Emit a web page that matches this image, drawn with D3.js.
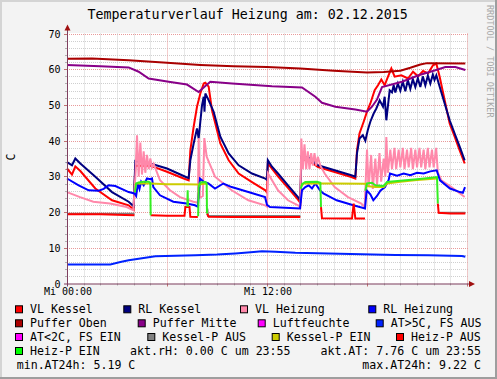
<!DOCTYPE html>
<html><head><meta charset="utf-8">
<script src="https://cdn.jsdelivr.net/npm/d3@7/dist/d3.min.js"></script>
<style>body{margin:0;background:#f3f3f3}svg{display:block}</style>
</head><body><svg id="c" width="497" height="379"></svg>
<script>
// ---------- DATA (hour of day, value in C) ----------
const title = "Temperaturverlauf Heizung am: 02.12.2015";
const yTicks = [0,10,20,30,40,50,60,70];
const xTickHours = [0,12];
const xTickLabels = ["Mi 00:00","Mi 12:00"];

const vlKessel = [[0,32.2],[0.3,30.5],[0.5,32.8],[0.8,31.5],[1.7,26.6],[2.7,23.3],[3.7,21.9],[4.0,20.7],[4.1,33.0],[5.0,33.0],[6.0,31.3],[7.0,29.4],[7.3,28.9],[7.4,37.3],[7.6,43.9],[7.8,49.5],[8.0,53.2],[8.2,56.0],[8.3,56.2],[8.5,55.1],[8.7,48.5],[9.2,39.2],[9.7,34.5],[10.3,30.8],[11.1,28.4],[11.9,26.1],[12.0,25.5],[12.05,33.6],[12.66,30.0],[13.26,26.8],[13.86,23.5],[14.0,22.6],[14.06,34.8],[14.5,34.5],[15.06,32.6],[16.06,31.2],[17.06,29.8],[17.3,29.4],[17.4,37.3],[17.55,42.0],[17.8,45.3],[18.0,48.1],[18.2,50.4],[18.46,54.1],[18.66,55.5],[18.86,57.1],[19.06,55.5],[19.26,57.9],[19.46,60.2],[19.66,57.9],[20.06,58.3],[20.46,57.4],[20.76,59.3],[21.06,58.0],[21.36,59.5],[21.66,58.8],[21.96,61.1],[22.16,61.6],[22.36,57.9],[22.66,51.3],[22.96,44.8],[23.26,41.1],[23.56,37.3],[23.86,33.6]];

const rlKessel = [[0,34.0],[0.3,33.1],[0.5,35.0],[0.8,33.6],[1.7,29.9],[2.7,25.6],[3.7,22.9],[4.0,21.6],[4.1,34.3],[5.0,33.6],[6.0,32.2],[7.1,29.9],[7.3,29.5],[7.4,34.5],[7.6,39.2],[7.8,43.4],[7.9,40.6],[8.0,45.3],[8.1,49.9],[8.2,52.3],[8.25,48.1],[8.3,53.2],[8.5,51.3],[8.8,48.1],[9.2,41.1],[9.7,36.4],[10.3,33.1],[11.1,30.8],[11.9,29.4],[12.0,29.0],[12.05,34.5],[12.3,32.7],[12.66,30.8],[13.26,27.5],[13.86,24.2],[14.0,23.3],[14.06,35.5],[14.5,35.3],[15.06,33.1],[16.06,31.7],[17.06,30.3],[17.3,29.9],[17.4,36.5],[17.55,40.6],[17.75,41.5],[17.9,40.0],[18.05,43.0],[18.2,45.3],[18.4,47.6],[18.56,49.0],[18.76,51.3],[18.96,49.5],[19.06,52.3],[19.16,45.7],[19.36,54.1],[19.5,53.5],[19.6,55.5],[19.7,53.5],[19.85,56.0],[20.0,54.0],[20.15,56.5],[20.3,53.8],[20.45,57.0],[20.6,54.5],[20.75,57.2],[20.9,55.0],[21.05,57.5],[21.2,55.0],[21.35,58.0],[21.5,55.5],[21.65,58.2],[21.8,56.0],[21.95,58.5],[22.05,57.0],[22.16,58.3],[22.36,55.1],[22.66,50.4],[22.96,45.7],[23.26,42.0],[23.56,38.3],[23.86,34.5]];

const vlHeizung = [[0,25.6],[0.78,24.2],[1.58,22.9],[2.58,22.4],[3.58,21.4],[3.98,20.5],[4.1,30],[4.2,41.5],[4.3,30],[4.4,39.5],[4.5,30.5],[4.6,37],[4.7,31],[4.8,36],[4.9,32],[5.0,35],[5.1,32.5],[5.2,33.5],[5.58,28.9],[6.18,26.1],[6.78,24.2],[7.58,22.9],[7.85,22.6],[7.9,40.7],[7.97,24],[8.15,24.5],[8.24,40.7],[8.38,35.5],[8.88,29.9],[9.88,26.1],[10.88,23.3],[11.88,21.9],[12.0,21.5],[12.06,30.8],[12.66,26.1],[13.26,23.3],[13.86,21.9],[14.0,21.4],[14.06,40.6],[14.15,32],[14.25,39],[14.35,32],[14.45,37],[14.55,32],[14.65,36.5],[14.75,33],[14.85,36.5],[14.95,33],[15.05,35.5],[15.2,33],[15.46,30.8],[16.06,27],[16.86,24.2],[17.66,22.4],[17.86,21.4],[18.0,37.5],[18.1,27],[18.25,36],[18.35,26.5],[18.5,35],[18.6,27.5],[18.75,36.5],[18.85,28.5],[19.0,35],[19.1,30],[19.16,41],[19.25,31],[19.4,37.5],[19.5,32],[19.65,38],[19.75,32],[19.9,37.5],[20.0,32.5],[20.15,38],[20.25,32],[20.4,37.5],[20.5,32.5],[20.65,38],[20.75,32],[20.9,37.5],[21.0,32.5],[21.15,38],[21.25,32.5],[21.4,37.5],[21.5,32],[21.65,38],[21.75,32.5],[21.9,37.5],[22.0,32.5],[22.15,38],[22.25,31],[22.46,28.9],[23.06,27.0],[23.5,25.5],[23.86,24.2]];

const rlHeizung = [[0,29.4],[0.7,27.5],[1.3,26.1],[1.9,26.0],[2.2,26.5],[2.5,27.5],[2.9,27.3],[3.7,25.6],[4.05,25.2],[4.15,24.5],[4.25,28],[4.35,26.5],[4.45,28.5],[4.6,27.5],[4.8,29.4],[5.0,29.2],[5.1,29.4],[5.18,27],[5.58,24.7],[6.38,22.9],[7.18,22.4],[7.68,21.9],[7.85,21.5],[7.98,29.4],[8.2,28.5],[8.48,28],[8.88,26.6],[9.38,28],[9.88,27],[10.88,25.6],[11.88,24.2],[12.0,22],[12.18,21.4],[13.98,21],[14.1,26.1],[14.3,27],[14.5,27.5],[14.7,26.6],[14.9,28],[15.18,26.1],[15.38,25.2],[16.18,23.3],[17.18,21.9],[17.88,21],[17.98,26.1],[18.2,25],[18.38,23.3],[18.6,24.5],[18.8,26],[19.08,27],[19.3,29],[19.38,30.8],[19.8,30.2],[20.2,30.8],[20.6,30.3],[21.0,31],[21.4,30.8],[21.8,31.4],[22.18,31.7],[22.38,28.9],[22.98,26.6],[23.58,25.6],[23.75,25.4],[23.88,27]];

const pufferOben = [[0,62.9],[1.5,63.0],[3.7,62.5],[6,61.8],[8,61.2],[10,60.8],[12,60.6],[14,60.2],[16,59.6],[18,59.1],[19,59.2],[20,59.6],[20.6,60.4],[21.2,61.3],[21.6,61.7],[23.9,61.6]];

const pufferMitte = [[0,61.2],[2,60.8],[3.7,60.5],[4.3,59.3],[4.9,57.4],[6.1,56.5],[7.2,55.7],[7.9,53.6],[8.3,55.3],[8.6,56.5],[9.9,56.0],[12.3,55.2],[14.1,54.9],[14.9,52.3],[15.3,50.6],[16.1,49.5],[17.3,48.7],[18.0,48.1],[18.3,49.5],[18.6,51.5],[18.9,55.0],[20.1,56.5],[21.1,58.3],[22.1,59.7],[22.7,60.6],[23.3,60.6],[23.9,59.8]];

const aussenTemp = [[0,5.3],[2.6,5.3],[3.2,6.0],[3.7,6.5],[4.5,7.1],[5.3,7.6],[7.7,7.9],[9,8.1],[10.1,8.4],[11.2,8.8],[11.7,9.0],[12.5,8.9],[13.7,8.6],[15.7,8.4],[17.7,8.2],[19.7,8.0],[21.7,7.9],[23.7,7.7],[23.9,7.5]];

const kesselPAus = [[0,19.5],[4.05,19.5],[4.06,null],[8.42,21.0],[8.46,18.9],[14.0,18.9],[14.02,null],[22.3,19.8],[23.9,19.8]];
const kesselPEin = [[4.07,27.5],[4.2,28],[5.0,28.0],[6,27.8],[7,27.8],[7.9,27.7],[8.38,28],[8.4,null],[14.05,27.2],[14.2,28],[16,28],[17.9,27.9],[18.0,27.3],[18.5,27],[19.0,27.0],[19.2,28.0],[20,28.5],[21,29],[22.2,29.4],[22.22,null]];
const heizPAus = [[0,19.4],[2,19.4],[3.5,19.2],[4.05,19.1],[4.07,null],[5.02,19.1],[6,19.0],[7.05,19.0],[7.1,21.4],[7.35,21.4],[7.4,18.7],[7.85,18.6],[7.87,null],[8.4,19.6],[8.5,18.7],[10,18.6],[12,18.6],[14.0,18.6],[14.03,null],[15.24,21.4],[15.3,18.3],[17.1,18.2],[17.2,22.4],[17.3,18.2],[17.88,18.2],[17.9,null],[22.25,22.4],[22.3,19.8],[23,19.6],[23.9,19.6]];
const heizPEin = [[4.07,25.5],[4.15,28],[4.3,28.3],[4.6,28.5],[4.9,28.5],[5.0,28.2],[5.02,19.1],[5.03,null],[7.22,21.5],[7.24,26.1],[7.26,21.5],[7.27,null],[7.87,18.8],[7.9,27],[8.0,28.3],[8.3,28.4],[8.38,28.0],[8.4,19.6],[8.42,null],[14.03,26.5],[14.1,27.8],[14.3,28.4],[15.0,28.5],[15.2,28.2],[15.24,21.4],[15.26,null],[17.9,26],[18.0,28],[18.3,28.2],[18.5,27.5],[19.0,27.3],[19.2,28.4],[20,28.8],[21,29.2],[22,29.7],[22.2,29.8],[22.25,22.4],[22.27,null]];

const legendNames = ["VL Kessel","RL Kessel","VL Heizung","RL Heizung","Puffer Oben","Puffer Mitte","Luftfeuchte","AT>5C, FS AUS","AT<2C, FS EIN","Kessel-P AUS","Kessel-P EIN","Heiz-P AUS","Heiz-P EIN"];
const legendColors = ["#ff0000","#000080","#ff88aa","#0000ff","#aa0000","#880088","#ff00ff","#0022ff","#ff00ff","#808080","#cccc00","#ff0000","#00ff00"];
const infoTexts = ["akt.rH: 0.00 C um 23:55","akt.AT: 7.76 C um 23:55","min.AT24h: 5.19 C","max.AT24h: 9.22 C"];

// ---------- DRAWING ----------
const W=497,H=379, X0=67, X1=467, Y0=283.5, Y1=33.5;
const FONT="DejaVu Sans Mono";
const svg=d3.select("#c");
const x=d3.scaleLinear().domain([0,24]).range([X0,X1]);
const y=d3.scaleLinear().domain([0,70]).range([Y0,Y1]);

svg.append("rect").attr("width",W).attr("height",H).attr("fill","#f3f3f3");
svg.append("rect").attr("x",0).attr("y",0).attr("width",W).attr("height",2).attr("fill","#d4d4d4");
svg.append("rect").attr("x",0).attr("y",0).attr("width",2).attr("height",H).attr("fill","#d4d4d4");
svg.append("rect").attr("x",0).attr("y",H-2).attr("width",W).attr("height",2).attr("fill","#9e9e9e");
svg.append("rect").attr("x",W-2).attr("y",0).attr("width",2).attr("height",H).attr("fill","#9e9e9e");

// plot area
svg.append("rect").attr("x",X0).attr("y",Y1-0.5).attr("width",X1-X0).attr("height",Y0-Y1+0.5).attr("fill","#ffffff");

const grid=svg.append("g");
// horizontal grid
d3.range(2,71,2).forEach(v=>{
  const yy=Math.round(y(v))+0.5, major=v%10===0;
  grid.append("line").attr("x1",X0-2).attr("x2",X1+2).attr("y1",yy).attr("y2",yy)
    .attr("stroke",major?"#e89a9a":"#cfcfcf").attr("stroke-width",1).attr("stroke-dasharray","1,1");
  grid.append("line").attr("x1",X0-(major?3:2)).attr("x2",X0).attr("y1",yy).attr("y2",yy)
    .attr("stroke",major?"#c07070":"#b0b0b0").attr("stroke-width",1);
});
// vertical grid
d3.range(1,25,1).forEach(h=>{
  const xx=Math.round(x(h))+0.5, major=h%6===0;
  grid.append("line").attr("x1",xx).attr("x2",xx).attr("y1",Y1).attr("y2",Y0+2)
    .attr("stroke",major?"#e89a9a":"#cfcfcf").attr("stroke-width",1).attr("stroke-dasharray","1,1");
  grid.append("line").attr("x1",xx).attr("x2",xx).attr("y1",Y0).attr("y2",Y0+(major?3:2))
    .attr("stroke",major?"#c07070":"#b0b0b0").attr("stroke-width",1);
});

// y labels
svg.append("g").selectAll("text").data(yTicks).join("text")
  .attr("x",60.5).attr("y",d=>Math.round(y(d))+4).attr("text-anchor","end")
  .attr("font-family",FONT).attr("font-size","10px").attr("fill","#000").text(d=>d);
// x labels
svg.append("g").selectAll("text").data(xTickHours).join("text")
  .attr("x",d=>x(d)+1).attr("y",295).attr("text-anchor","middle")
  .attr("font-family",FONT).attr("font-size","10px").attr("fill","#000").text((d,i)=>xTickLabels[i]);

// series
const line=d3.line().defined(d=>d[1]!=null).x(d=>x(d[0])).y(d=>y(d[1]));
const series=[
  [vlKessel,legendColors[0]],[rlKessel,legendColors[1]],[vlHeizung,legendColors[2]],[rlHeizung,legendColors[3]],
  [pufferOben,legendColors[4]],[pufferMitte,legendColors[5]],[aussenTemp,legendColors[7]],
  [kesselPAus,legendColors[9]],[kesselPEin,legendColors[10]],[heizPAus,legendColors[11]],[heizPEin,"#33ee22"]
];
const sg=svg.append("g");
series.forEach(([d,c])=>{
  sg.append("path").attr("d",line(d)).attr("fill","none").attr("stroke",c).attr("stroke-width",2)
    .attr("stroke-linejoin","miter").attr("stroke-linecap","butt");
});

// axes
const axisCol="#7f3f5f";
svg.append("line").attr("x1",X0+0.5).attr("x2",X0+0.5).attr("y1",Y0+3).attr("y2",Y1-4).attr("stroke",axisCol).attr("stroke-width",1);
svg.append("line").attr("x1",X0-3).attr("x2",X1+4).attr("y1",Y0+0.5).attr("y2",Y0+0.5).attr("stroke",axisCol).attr("stroke-width",1);
svg.append("path").attr("d",`M${X0-2.5},${Y1-3} L${X0+0.5},${Y1-9} L${X0+3.5},${Y1-3} Z`).attr("fill","#a01010");
svg.append("path").attr("d",`M${X1+2},${Y0-2.5} L${X1+8},${Y0+0.5} L${X1+2},${Y0+3.5} Z`).attr("fill","#a01010");

// title
svg.append("text").attr("x",247.7).attr("y",18.5).attr("text-anchor","middle")
  .attr("font-family",FONT).attr("font-size","13.3px").attr("fill","#000").text(title);
// y unit label
svg.append("text").attr("transform","translate(15,157) rotate(-90)").attr("text-anchor","middle")
  .attr("font-family",FONT).attr("font-size","11.6px").attr("fill","#000").text("C");
// watermark
svg.append("text").attr("transform","translate(487,5) rotate(90)")
  .attr("font-family",FONT).attr("font-size","8.5px").attr("fill","#a8a8a8").text("RRDTOOL / TOBI OETIKER");

// legend
const legendPos=[[15,313.3],[123.3,313.3],[240,313.3],[368.3,313.3],
                 [15,327.3],[137.7,327.3],[257.7,327.3],[375.7,327.3],
                 [15,341],[147.3,341],[271.7,341],[396,341],
                 [15,355]];
const lg=svg.append("g");
legendNames.forEach((n,i)=>{
  const [lx,ly]=legendPos[i];
  lg.append("rect").attr("x",lx+0.5).attr("y",ly-7.5).attr("width",7).attr("height",7)
    .attr("fill",legendColors[i]).attr("stroke","#000").attr("stroke-width",1);
  lg.append("text").attr("x",lx+15).attr("y",ly).attr("font-family",FONT).attr("font-size","11.6px")
    .attr("fill","#000").text(n);
});
const infoPos=[[130,355,"start"],[481,355,"end"],[16.7,369,"start"],[481,369,"end"]];
infoTexts.forEach((t,i)=>{
  lg.append("text").attr("x",infoPos[i][0]).attr("y",infoPos[i][1]).attr("text-anchor",infoPos[i][2])
    .attr("font-family",FONT).attr("font-size","11.6px").attr("fill","#000").text(t);
});
</script></body></html>
